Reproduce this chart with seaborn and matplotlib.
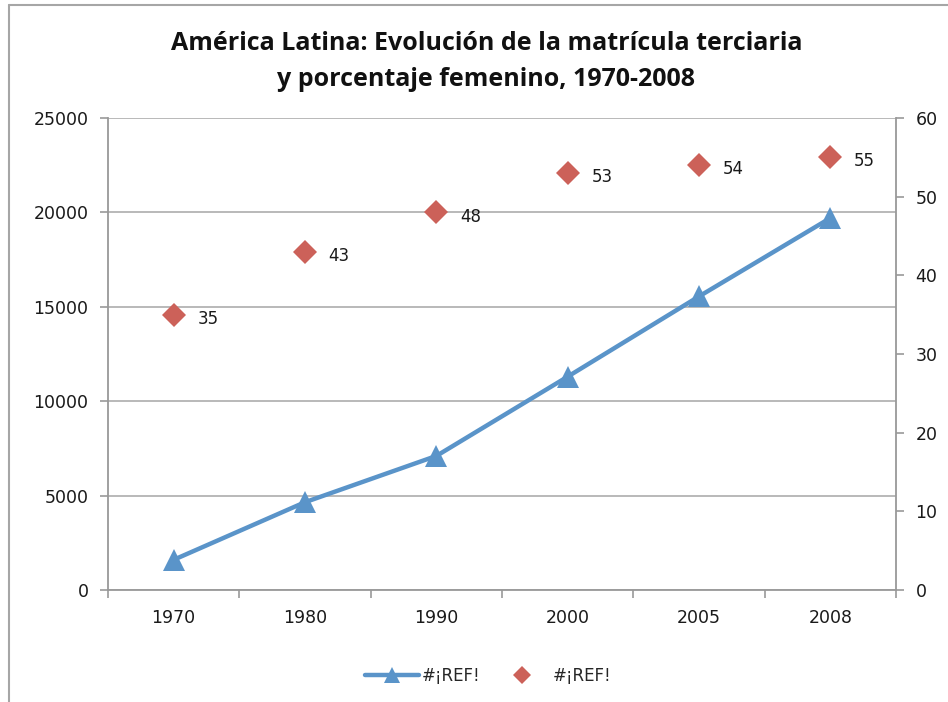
import pandas as pd
import numpy as np
import matplotlib
matplotlib.use("Agg")
import matplotlib.pyplot as plt
from matplotlib.lines import Line2D
import seaborn as sns

# data
years = ["1970", "1980", "1990", "2000", "2005", "2008"]
matricula = [1600, 4650, 7100, 11300, 15550, 19700]
pct_femenino = [35, 43, 48, 53, 54, 55]
legend_labels = ["#¡REF!", "#¡REF!"]

blue = "#5a94c9"
red = "#cc6159"
grid_grey = "#b3b3b3"

sns.set_theme(style="white")
plt.rcParams["font.family"] = ["DejaVu Sans"]

df = pd.DataFrame({"year": years, "matricula": matricula, "pct": pct_femenino})

fig = plt.figure(figsize=(9.48, 7.02), dpi=100)
ax = fig.add_axes([108 / 948, 1 - 590 / 702, (896 - 108) / 948, (590 - 118) / 702])

# line series on the left axis
sns.pointplot(data=df, x="year", y="matricula", ax=ax, color=blue,
              marker="^", markersize=16, linewidth=3.2, markeredgewidth=0,
              errorbar=None, zorder=3)
ax.set_ylim(0, 25000)
ax.set_yticks(np.arange(0, 25001, 5000))
ax.set_xlim(-0.5, len(years) - 0.5)
ax.yaxis.grid(True, color=grid_grey, linewidth=1.3)
ax.set_axisbelow(True)
ax.set_xlabel("")
ax.set_ylabel("")

# diamonds on the right axis
ax2 = ax.twinx()
sns.pointplot(data=df, x="year", y="pct", ax=ax2, color=red,
              marker="D", markersize=12.5, linestyle="none", markeredgewidth=0,
              errorbar=None, zorder=3)
ax2.set_ylim(0, 60)
ax2.set_yticks(np.arange(0, 61, 10))
ax2.set_xlim(-0.5, len(years) - 0.5)
ax2.set_ylabel("")
ax2.grid(False)

for i, v in enumerate(pct_femenino):
    ax2.annotate(str(v), (i, v), xytext=(17, -3), textcoords="offset points",
                 ha="left", va="center", fontsize=12, color="#1a1a1a")

# axes styling, Excel look
for a in (ax, ax2):
    for s in a.spines.values():
        s.set_visible(False)
ax.spines["left"].set_visible(True)
ax.spines["bottom"].set_visible(True)
ax2.spines["right"].set_visible(True)
for s in (ax.spines["left"], ax.spines["bottom"], ax2.spines["right"]):
    s.set_color("#999999")
    s.set_linewidth(1.3)

ax.tick_params(axis="y", which="major", direction="out", length=6, width=1.2,
               color="#999999", labelsize=12.5, labelcolor="#1a1a1a", pad=8, left=True)
ax2.tick_params(axis="y", which="major", direction="out", length=6, width=1.2,
                color="#999999", labelsize=12.5, labelcolor="#1a1a1a", pad=8, right=True)

ax.set_xticks(range(len(years)))
ax.set_xticklabels(years)
ax.set_xticks(np.arange(-0.5, len(years), 1.0), minor=True)
ax.tick_params(axis="x", which="major", length=0, labelsize=12.5,
               labelcolor="#1a1a1a", pad=14)
ax.tick_params(axis="x", which="minor", direction="out", length=6, width=1.2,
               color="#999999", bottom=True)

# title
fig.text(0.513, 1 - 44 / 702, "América Latina: Evolución de la matrícula terciaria",
         ha="center", va="center", fontsize=18, fontweight="bold",
         family=["Open Sans", "DejaVu Sans"], color="#111111")
fig.text(0.513, 1 - 79 / 702, "y porcentaje femenino, 1970-2008",
         ha="center", va="center", fontsize=18, fontweight="bold",
         family=["Open Sans", "DejaVu Sans"], color="#111111")

# legend
handles = [
    Line2D([], [], color=blue, linewidth=3.2, marker="^", markersize=12, markeredgewidth=0),
    Line2D([], [], color=red, linestyle="none", marker="D", markersize=9, markeredgewidth=0),
]
fig.legend(handles, legend_labels, loc="center", bbox_to_anchor=(0.515, 1 - 676 / 702),
           ncol=2, frameon=False, fontsize=12, handlelength=3.2, columnspacing=0.9,
           handletextpad=0.2, numpoints=1)

# chart frame: only the top and left edges show in the picture
fig.add_artist(Line2D([9 / 948, 1.0], [1 - 5 / 702, 1 - 5 / 702], transform=fig.transFigure,
                      color="#a6a6a6", linewidth=1.5))
fig.add_artist(Line2D([9 / 948, 9 / 948], [0.0, 1 - 5 / 702], transform=fig.transFigure,
                      color="#a6a6a6", linewidth=1.5))

fig.savefig("out.png", dpi=100)
